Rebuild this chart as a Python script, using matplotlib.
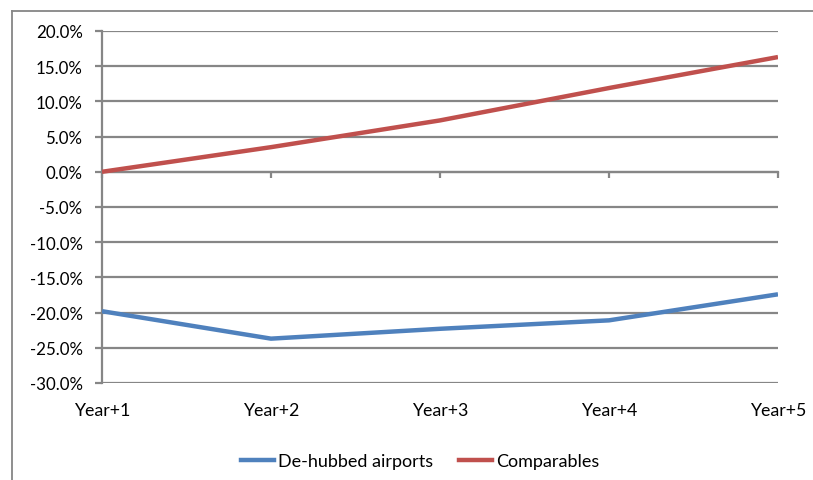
import matplotlib
matplotlib.use("Agg")
import matplotlib.pyplot as plt
from matplotlib.lines import Line2D
from matplotlib.ticker import FuncFormatter

# Series data (percent change)
years = ["Year+1", "Year+2", "Year+3", "Year+4", "Year+5"]
dehubbed = [-19.8, -23.7, -22.3, -21.1, -17.4]
comparables = [0.0, 3.5, 7.3, 11.9, 16.3]
y_ticks = [-30, -25, -20, -15, -10, -5, 0, 5, 10, 15, 20]

BLUE = "#4F81BD"
RED = "#C0504D"
GRID = "#868686"

plt.rcParams["font.family"] = ["Lato", "DejaVu Sans"]

W, H = 813, 481
fig = plt.figure(figsize=(W / 100, H / 100), dpi=100)
ax = fig.add_axes([102 / W, 1 - 384 / H, (778 - 102) / W, (384 - 32) / H])

x = list(range(len(years)))
ax.plot(x, dehubbed, color=BLUE, lw=3.2, solid_capstyle="butt", zorder=3,
        label="De-hubbed airports")
ax.plot(x, comparables, color=RED, lw=3.2, solid_capstyle="butt", zorder=3,
        label="Comparables")

ax.set_xlim(0, len(years) - 1)
ax.set_ylim(min(y_ticks), max(y_ticks))
ax.set_yticks(y_ticks)
ax.yaxis.set_major_formatter(FuncFormatter(lambda v, p: f"{v:.1f}%"))
ax.yaxis.grid(True, color=GRID, lw=1.6)
ax.set_axisbelow(True)

for s in ("top", "right"):
    ax.spines[s].set_visible(False)
ax.spines["left"].set_color(GRID)
ax.spines["left"].set_linewidth(1.6)
ax.spines["bottom"].set_position(("data", 0))
ax.spines["bottom"].set_color(GRID)
ax.spines["bottom"].set_linewidth(1.6)

ax.tick_params(axis="y", direction="out", length=5, width=1.6, color=GRID,
               pad=9, labelsize=12.2, labelcolor="black")
ax.set_xticks(x)
ax.tick_params(axis="x", direction="out", length=4, width=1.6, color=GRID,
               labelbottom=False)

# Category labels along the bottom of the plot
sec = ax.secondary_xaxis("bottom")
sec.set_xticks(x, years)
sec.tick_params(length=0, pad=14, labelsize=12.8)
sec.spines["bottom"].set_visible(False)

# Legend below the plot
handles = [Line2D([], [], color=BLUE, lw=3.2), Line2D([], [], color=RED, lw=3.2)]
fig.legend(handles, ["De-hubbed airports", "Comparables"], loc="center",
           bbox_to_anchor=(420 / W, 1 - 462 / H), ncol=2, frameon=False,
           fontsize=13, handlelength=1.85, handletextpad=0.2,
           columnspacing=1.45)

# Chart area border (left and top edges)
fig.add_artist(Line2D([12 / W, 12 / W], [0, 1 - 12 / H], color=GRID, lw=1.3,
                      transform=fig.transFigure))
fig.add_artist(Line2D([12 / W, 1], [1 - 12 / H, 1 - 12 / H], color=GRID, lw=1.3,
                      transform=fig.transFigure))

fig.savefig("out.png", dpi=100)
